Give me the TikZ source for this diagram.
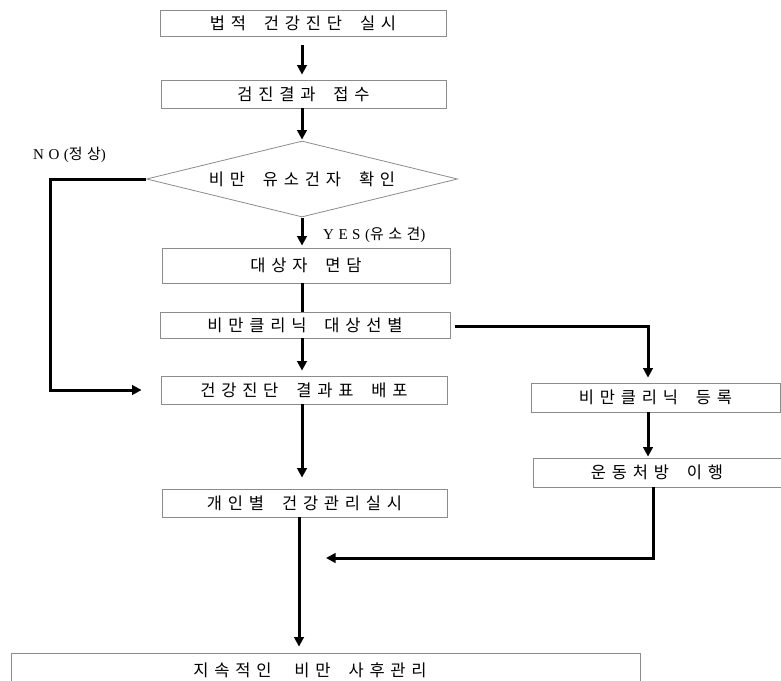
\documentclass[tikz,border=0pt]{standalone}
\usepackage{fontspec}
\setmainfont{Liberation Serif}
\newfontfamily\kr[LetterSpace=35,WordSpace=1.9]{Noto Sans CJK KR}
\newfontfamily\krl[LetterSpace=30]{Noto Sans CJK KR}
\newfontfamily\lat[LetterSpace=30]{Liberation Serif}
\usetikzlibrary{arrows.meta,shapes.geometric,calc}
\begin{document}
\begin{tikzpicture}[x=1pt,y=-1pt,
  krtext/.style={font=\kr\fontsize{16.5}{18}\selectfont},
  box/.style={draw=black!45,line width=0.8pt,inner sep=0pt,krtext},
  flow/.style={line width=3pt,-{Triangle[width=9.5pt,length=9.5pt]}},
  plain/.style={line width=3pt},
  lbl/.style={font=\lat\fontsize{15}{17}\selectfont,inner sep=0pt}]
\useasboundingbox (0,0) rectangle (781,680);
\node[box,minimum width=286pt,minimum height=26pt] (b1) at (303,23) {법적 건강진단 실시};
\node[box,minimum width=285pt,minimum height=28pt] (b2) at (303.5,94) {검진결과 접수};
\node[draw=black!45,line width=0.8pt,diamond,aspect=4.09,inner sep=0pt,minimum width=311pt,minimum height=76pt,krtext] (d) at (302,179) {비만 유소건자 확인};
\node[box,minimum width=288pt,minimum height=35pt] (b3) at (306,265.5) {대상자 면담};
\node[box,minimum width=290pt,minimum height=26pt] (b4) at (305,325) {비만클리닉 대상선별};
\node[box,minimum width=286pt,minimum height=28pt] (b5) at (304,390) {건강진단 결과표 배포};
\node[box,minimum width=249pt,minimum height=29pt] (b6) at (655.5,397.5) {비만클리닉 등록};
\node[box,minimum width=248pt,minimum height=29pt] (b7) at (657,472.5) {운동처방 이행};
\node[box,minimum width=285pt,minimum height=28pt] (b8) at (304.5,503) {개인별 건강관리실시};
\node[draw=black!45,line width=0.8pt,minimum width=629pt,minimum height=40pt,inner sep=0pt] (b9) at (325.5,673) {};
\node[krtext,inner sep=0pt] (t9) at (310,670) {지속적인\hspace{5pt} 비만 사후관리};
\node[lbl,anchor=west] (no) at (33,155) {NO({\krl 정상})};
\node[lbl,anchor=west] (yes) at (323,235) {YES({\krl 유소견})};
% connectors
\coordinate (rx) at (648,0);
\coordinate (lx) at (50,0);
\coordinate (jn) at (326,558);
\draw[flow,shorten <=9pt,shorten >=5pt] (b1.south -| 302,0) -- (b2.north -| 302,0);
\draw[flow,shorten >=1pt] (b2.south -| 302,0) -- (d.north -| 302,0);
\draw[flow,shorten <=1pt,shorten >=2pt] (d.south -| 302,0) -- (b3.north -| 302,0);
\draw[plain] (b3.south -| 302,0) -- (b4.north -| 302,0);
\draw[flow,shorten >=5pt] (b4.south -| 302,0) -- (b5.north -| 302,0);
\draw[flow,shorten >=19pt] (d.west) -- (d.west -| lx) |- (b5.west);
\draw[flow,shorten >=5pt] ($(b4.east)+(5,1)$) -| (b6.north -| rx);
\draw[flow,shorten >=1pt] (b6.south -| rx) -- (b7.north -| rx);
\draw[flow] (b7.south -| 653,0) |- (jn);
\draw[flow,shorten >=11pt] (b5.south -| 302,0) -- (b8.north -| 302,0);
\draw[flow,shorten >=6pt] (b8.south -| 299,0) -- (b9.north -| 299,0);
\end{tikzpicture}
\end{document}
